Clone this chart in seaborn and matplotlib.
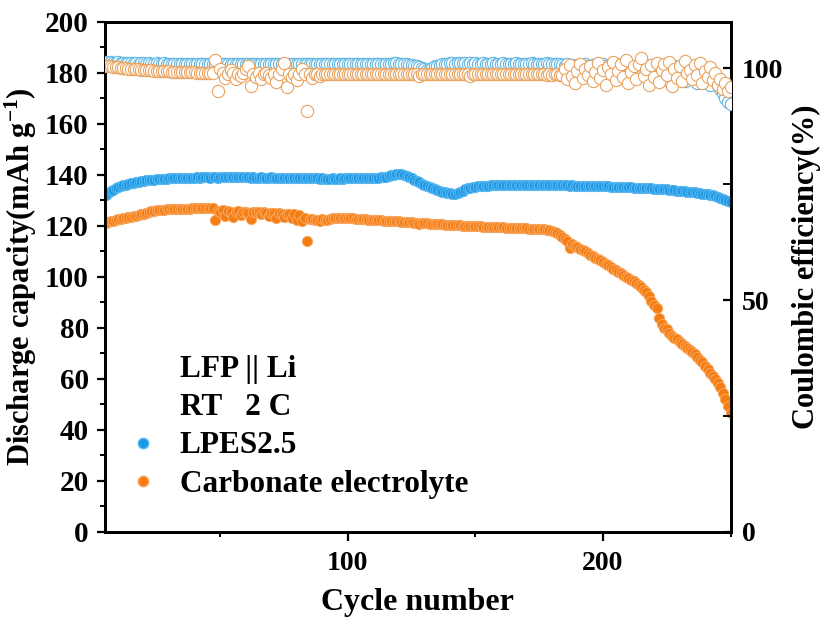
import matplotlib
matplotlib.use("Agg")
import matplotlib.pyplot as plt
from matplotlib.ticker import MultipleLocator
from matplotlib.lines import Line2D
import seaborn as sns
import pandas as pd

cycles = list(range(5, 251))

cap_lpes = [
    132.0, 132.9, 133.6, 134.2, 134.7, 135.1, 135.5, 135.9, 136.2, 136.5,
    136.8, 137.0, 137.2, 137.4, 137.6, 137.7, 137.9, 138.0, 138.1, 138.2,
    138.3, 138.4, 138.5, 138.5, 138.6, 138.7, 138.7, 138.8, 138.8, 138.9,
    138.9, 138.9, 139.0, 139.0, 139.0, 139.0, 139.1, 139.0, 139.1, 139.1,
    139.1, 139.0, 139.1, 139.1, 139.0, 139.1, 139.1, 139.2, 139.1, 139.1,
    139.1, 139.2, 139.1, 139.1, 139.2, 139.1, 139.1, 139.0, 139.1, 139.0,
    139.0, 139.1, 139.0, 139.0, 139.0, 139.1, 139.0, 138.9, 139.0, 139.0,
    138.9, 138.9, 139.0, 138.9, 138.9, 138.8, 138.9, 138.8, 138.8, 138.8,
    138.7, 138.8, 138.7, 138.7, 138.6, 138.7, 138.6, 138.6, 138.6, 138.7,
    138.6, 138.6, 138.7, 138.6, 138.7, 138.7, 138.7, 138.8, 138.7, 138.8,
    138.8, 138.8, 138.9, 138.8, 138.9, 138.9, 139.0, 139.0, 139.1, 139.1,
    139.3, 139.5, 139.8, 140.0, 140.2, 140.3, 140.2, 140.0, 139.6, 139.2,
    138.7, 138.2, 137.6, 137.1, 136.6, 136.1, 135.6, 135.2, 134.8, 134.4,
    134.1, 133.8, 133.5, 133.2, 133.0, 132.8, 132.7, 132.6, 132.8, 133.2,
    133.8, 134.3, 134.7, 135.0, 135.2, 135.4, 135.5, 135.6, 135.7, 135.8,
    135.8, 135.9, 135.9, 136.0, 136.0, 136.0, 136.1, 136.0, 136.1, 136.1,
    136.1, 136.1, 136.2, 136.1, 136.1, 136.2, 136.1, 136.1, 136.1, 136.0,
    136.1, 136.0, 136.0, 136.1, 136.0, 136.0, 135.9, 136.0, 135.9, 135.9,
    135.9, 135.9, 135.8, 135.9, 135.8, 135.8, 135.8, 135.7, 135.8, 135.7,
    135.7, 135.7, 135.6, 135.6, 135.6, 135.5, 135.5, 135.5, 135.4, 135.4,
    135.3, 135.3, 135.3, 135.2, 135.2, 135.1, 135.1, 135.0, 135.0, 134.9,
    134.9, 134.8, 134.8, 134.7, 134.7, 134.6, 134.5, 134.5, 134.4, 134.3,
    134.3, 134.2, 134.1, 134.0, 133.9, 133.8, 133.7, 133.6, 133.5, 133.4,
    133.3, 133.2, 133.0, 132.9, 132.7, 132.6, 132.4, 132.2, 132.0, 131.7,
    131.4, 131.0, 130.6, 130.2, 129.8, 129.4,
]

cap_carb = [
    121.0, 121.4, 121.8, 122.1, 122.4, 122.7, 122.9, 123.1, 123.3, 123.5,
    123.7, 123.9, 124.1, 124.3, 124.5, 124.8, 125.1, 125.4, 125.7, 125.9,
    126.1, 126.2, 126.3, 126.4, 126.5, 126.5, 126.6, 126.6, 126.7, 126.7,
    126.7, 126.8, 126.8, 126.8, 126.9, 126.9, 126.9, 127.0, 127.0, 127.0,
    127.0, 127.1, 127.1, 122.5, 125.8, 125.3, 126.2, 124.0, 125.9, 125.5,
    123.5, 125.6, 125.8, 124.2, 125.4, 125.6, 125.2, 122.8, 125.4, 125.3,
    125.5, 124.6, 125.3, 125.2, 124.0, 125.1, 125.2, 123.3, 124.9, 124.8,
    123.6, 124.8, 124.7, 123.0, 124.6, 122.5, 124.3, 122.0, 123.2, 114.0,
    122.6, 122.9, 122.4, 122.5, 121.8, 122.6, 122.4, 122.2, 122.8, 123.1,
    123.2, 123.3, 123.3, 123.2, 123.2, 123.1, 123.1, 123.0, 122.9, 122.9,
    122.8, 122.7, 122.6, 122.5, 122.4, 122.4, 122.3, 122.2, 122.2, 122.1,
    122.1, 122.0, 121.9, 121.9, 121.8, 121.8, 121.7, 121.6, 121.5, 121.4,
    121.4, 121.3, 121.2, 120.6, 121.1, 121.0, 121.0, 120.9, 120.8, 120.8,
    120.7, 120.6, 120.6, 120.5, 120.5, 120.4, 120.3, 120.3, 120.2, 120.2,
    120.1, 120.1, 120.0, 120.0, 119.9, 119.9, 119.8, 119.8, 119.7, 119.7,
    119.6, 119.6, 119.5, 119.5, 119.4, 119.4, 119.4, 119.3, 119.3, 119.3,
    119.2, 119.2, 119.2, 119.1, 119.1, 119.1, 119.0, 119.0, 119.0, 118.9,
    118.9, 118.8, 118.7, 118.6, 118.4, 118.1, 117.7, 117.2, 116.5, 115.8,
    115.0, 114.2, 111.5, 113.0, 112.0, 111.8, 111.0, 110.5, 110.2, 109.3,
    108.8, 108.3, 107.6, 107.0, 106.5, 105.8, 105.2, 104.5, 103.8, 103.2,
    102.6, 102.0, 101.4, 100.8, 100.1, 99.5, 98.9, 98.3, 97.6, 97.0,
    96.0, 95.0, 94.0, 92.5, 90.5, 89.0, 88.0, 84.0, 81.5, 80.0,
    79.5, 78.0, 77.0, 76.2, 75.5, 74.5, 73.8, 72.8, 72.2, 71.5,
    70.5, 69.8, 68.7, 67.5, 66.5, 65.2, 64.0, 62.5, 61.0, 59.8,
    58.3, 56.8, 54.5, 52.0, 49.5, 46.5,
]

ce_lpes = [
    101.4, 101.3, 101.3, 101.2, 101.2, 101.3, 101.2, 101.1, 101.2, 101.1,
    101.1, 101.2, 101.1, 101.0, 101.1, 101.1, 101.0, 101.1, 101.0, 101.0,
    101.1, 101.0, 101.0, 101.1, 101.0, 101.0, 100.9, 101.0, 101.0, 101.0,
    100.9, 101.0, 101.0, 100.9, 101.0, 101.0, 100.9, 101.0, 100.9, 101.0,
    101.0, 100.9, 101.0, 100.9, 100.9, 101.0, 100.9, 101.0, 100.9, 100.9,
    101.0, 100.9, 100.9, 101.0, 100.9, 100.9, 101.0, 100.9, 100.9, 100.9,
    101.0, 100.9, 100.9, 100.9, 101.0, 100.9, 100.9, 100.9, 101.0, 100.9,
    100.9, 100.9, 101.0, 100.9, 100.9, 100.9, 100.9, 101.0, 100.9, 100.9,
    100.9, 101.0, 100.9, 100.9, 100.9, 100.9, 101.0, 100.9, 100.9, 100.9,
    101.0, 100.9, 100.9, 100.9, 100.9, 101.0, 100.9, 100.9, 100.9, 101.0,
    100.9, 100.9, 100.9, 101.0, 100.9, 100.9, 100.9, 101.0, 100.9, 101.0,
    100.9, 101.0, 101.0, 101.1, 101.1, 101.0, 101.0, 100.9, 100.9, 100.8,
    100.7, 100.6, 100.4, 100.2, 100.0, 99.8, 99.7, 99.8, 100.1, 100.4,
    100.6, 100.8, 100.9, 101.0, 101.0, 101.1, 101.1, 101.0, 101.1, 101.1,
    101.1, 101.1, 101.0, 101.1, 101.0, 101.1, 101.0, 101.0, 101.1, 101.0,
    101.0, 101.0, 101.1, 101.0, 101.0, 101.0, 101.1, 101.0, 101.0, 101.0,
    101.0, 101.1, 101.0, 101.0, 101.0, 101.0, 101.0, 101.1, 101.0, 101.0,
    101.0, 101.0, 101.0, 101.1, 101.0, 101.0, 100.9, 101.0, 100.9, 100.8,
    100.5, 100.9, 99.5, 100.7, 98.4, 100.8, 100.3, 99.2, 100.9, 100.6,
    100.2, 100.8, 99.8, 100.6, 98.7, 100.9, 100.4, 99.6, 100.8, 100.2,
    99.3, 100.7, 98.2, 100.5, 100.1, 97.8, 100.6, 99.4, 100.3, 100.8,
    98.8, 100.4, 99.6, 97.9, 100.7, 99.9, 98.5, 100.3, 99.2, 100.6,
    97.5, 100.1, 99.0, 100.5, 98.1, 99.7, 100.4, 97.2, 99.5, 100.2,
    98.6, 99.9, 96.8, 99.3, 100.0, 97.9, 99.1, 96.5, 98.8, 97.4,
    96.3, 95.6, 94.7, 93.6, 92.8, 92.3,
]

ce_carb = [
    100.5, 100.4, 100.4, 100.3, 100.2, 100.2, 100.1, 100.0, 100.0, 99.9,
    99.9, 99.8, 99.8, 99.8, 99.7, 99.7, 99.6, 99.6, 99.6, 99.5,
    99.5, 99.5, 99.4, 99.4, 99.4, 99.4, 99.3, 99.3, 99.3, 99.3,
    99.3, 99.2, 99.2, 99.2, 99.2, 99.2, 99.1, 99.1, 99.1, 99.1,
    99.1, 99.1, 99.0, 101.7, 95.1, 99.8, 98.9, 97.9, 98.8, 99.7,
    98.9, 97.7, 98.8, 98.4, 98.9, 99.9, 100.6, 96.2, 98.8, 98.1,
    98.9, 97.6, 98.8, 98.9, 98.6, 97.9, 98.8, 97.0, 98.8, 99.8,
    101.2, 96.0, 98.7, 98.2, 98.8, 97.4, 98.7, 99.9, 98.8, 90.8,
    98.7, 97.9, 98.8, 98.7, 98.3, 98.8, 98.7, 98.8, 98.7, 98.8,
    98.7, 98.8, 98.7, 98.7, 98.8, 98.7, 98.7, 98.8, 98.7, 98.7,
    98.8, 98.7, 98.7, 98.7, 98.8, 98.7, 98.7, 98.7, 98.8, 98.7,
    98.7, 98.7, 98.8, 98.7, 98.7, 98.7, 98.8, 98.7, 98.7, 98.7,
    98.8, 98.7, 98.7, 98.3, 98.7, 98.7, 98.7, 98.8, 98.7, 98.7,
    98.7, 98.8, 98.7, 98.7, 98.7, 98.7, 98.8, 98.7, 98.7, 98.7,
    98.8, 98.7, 98.7, 98.4, 98.7, 98.7, 98.8, 98.7, 98.7, 98.7,
    98.7, 98.8, 98.7, 98.7, 98.7, 98.8, 98.7, 98.7, 98.7, 98.7,
    98.8, 98.7, 98.7, 98.7, 98.7, 98.8, 98.7, 98.7, 98.7, 98.7,
    98.8, 98.7, 98.7, 98.6, 98.7, 98.6, 98.7, 98.7, 98.6, 98.5,
    99.8, 97.6, 100.8, 98.3, 96.8, 99.4, 101.0, 97.9, 99.9, 98.6,
    100.5, 97.2, 99.2, 101.1, 98.0, 99.7, 96.5, 100.2, 98.8, 101.3,
    97.5, 99.5, 100.9, 98.2, 101.8, 96.9, 99.3, 100.6, 97.8, 101.0,
    102.3, 98.4, 99.9, 96.4, 100.7, 98.1, 101.2, 97.0, 99.6, 100.9,
    98.5, 101.4, 96.2, 99.8, 98.0, 100.5, 97.3, 101.6, 98.9, 99.7,
    97.7, 100.8, 98.6, 101.1, 96.9, 99.4, 98.2, 100.3, 97.5, 99.0,
    96.5, 97.8, 95.5, 96.9, 95.2, 96.0,
]

series_names = ["LPES2.5", "Carbonate electrolyte"]
header_lines = ["LFP || Li", "RT   2 C"]

df = pd.DataFrame({
    "cycle": cycles,
    "cap_lpes": cap_lpes,
    "cap_carb": cap_carb,
    "ce_lpes": ce_lpes,
    "ce_carb": ce_carb,
})

sns.set_style("ticks")
plt.rcParams["font.family"] = ["Liberation Serif", "DejaVu Serif"]
plt.rcParams["font.weight"] = "bold"
plt.rcParams["axes.labelweight"] = "bold"
plt.rcParams["text.color"] = "black"
plt.rcParams["axes.labelcolor"] = "black"
plt.rcParams["xtick.color"] = "black"
plt.rcParams["ytick.color"] = "black"
plt.rcParams["xtick.labelcolor"] = "black"
plt.rcParams["ytick.labelcolor"] = "black"
plt.rcParams["mathtext.fontset"] = "custom"
plt.rcParams["mathtext.rm"] = "Liberation Serif:bold"
plt.rcParams["mathtext.bf"] = "Liberation Serif:bold"
plt.rcParams["mathtext.it"] = "Liberation Serif:bold"
plt.rcParams["mathtext.default"] = "bf"

blue = "#1C97E6"
blue_edge = "#5DB9F0"
orange = "#F57E14"
orange_edge = "#F9A760"
ce_blue = "#63B8E3"
ce_orange = "#E9A35E"

fig = plt.figure(figsize=(8.25, 6.28), dpi=100)
ax = fig.add_axes([0.127, 0.153, 0.7585, 0.812])
ax2 = ax.twinx()

sns.scatterplot(data=df, x="cycle", y="cap_lpes", ax=ax, color=blue,
                edgecolor=blue_edge, linewidth=0.7, s=54, legend=False, zorder=3)
sns.scatterplot(data=df, x="cycle", y="cap_carb", ax=ax, color=orange,
                edgecolor=orange_edge, linewidth=0.7, s=54, legend=False, zorder=3)
sns.scatterplot(data=df, x="cycle", y="ce_lpes", ax=ax2, color="white",
                edgecolor=ce_blue, linewidth=0.8, s=78, legend=False, zorder=3)
sns.scatterplot(data=df, x="cycle", y="ce_carb", ax=ax2, color="white",
                edgecolor=ce_orange, linewidth=0.8, s=78, legend=False, zorder=4)

ax.set_xlim(4.7, 250)
ax.set_ylim(0, 200)
ax2.set_ylim(0, 110)

ax.xaxis.set_major_locator(MultipleLocator(100))
ax.xaxis.set_minor_locator(MultipleLocator(50))
ax.yaxis.set_major_locator(MultipleLocator(20))
ax.yaxis.set_minor_locator(MultipleLocator(10))
ax2.yaxis.set_major_locator(MultipleLocator(50))
ax2.yaxis.set_minor_locator(MultipleLocator(25))

ax.tick_params(axis="x", which="major", direction="out", length=6.5, width=1.6,
               labelsize=20, pad=7, top=False)
ax.tick_params(axis="x", which="minor", direction="out", length=3.5, width=1.4, top=False)
ax.tick_params(axis="y", which="major", direction="out", length=6, width=1.6,
               labelsize=21, pad=5.5, right=False)
ax.tick_params(axis="y", which="minor", direction="out", length=3.5, width=1.4, right=False)
ax2.tick_params(axis="y", which="major", direction="in", length=6, width=1.6,
                labelsize=20, pad=8)
ax2.tick_params(axis="y", which="minor", direction="in", length=6, width=1.4)

for a in (ax, ax2):
    for sp in a.spines.values():
        sp.set_linewidth(2.0)
        sp.set_color("black")

for lab in ax.get_xticklabels() + ax.get_yticklabels() + ax2.get_yticklabels():
    lab.set_fontweight("bold")

ax.set_xlabel("Cycle number", fontsize=23, fontweight="bold", labelpad=9)
ax.set_ylabel("Discharge capacity(mAh g$^{-1}$)", fontsize=22, fontweight="bold")
ax.yaxis.set_label_coords(-0.105, 0.5)
ax2.set_ylabel("Coulombic efficiency(%)", fontsize=22, fontweight="bold")
ax2.yaxis.set_label_coords(1.098, 0.52)

handles = [
    Line2D([], [], linestyle="none", marker=None, visible=False),
    Line2D([], [], linestyle="none", marker=None, visible=False),
    Line2D([], [], linestyle="none", marker="o", markersize=7.5,
           markerfacecolor=blue, markeredgecolor=blue_edge),
    Line2D([], [], linestyle="none", marker="o", markersize=7.5,
           markerfacecolor=orange, markeredgecolor=orange_edge),
]
labels = header_lines + series_names
leg = ax2.legend(handles, labels, loc="upper left", bbox_to_anchor=(0.016, 0.372),
                 frameon=False,
                 prop={"family": "Liberation Serif", "weight": "bold", "size": 22.5},
                 handlelength=1.0, handletextpad=0.68, labelspacing=0.3,
                 borderaxespad=0.0)

fig.savefig("out.png", dpi=100)
